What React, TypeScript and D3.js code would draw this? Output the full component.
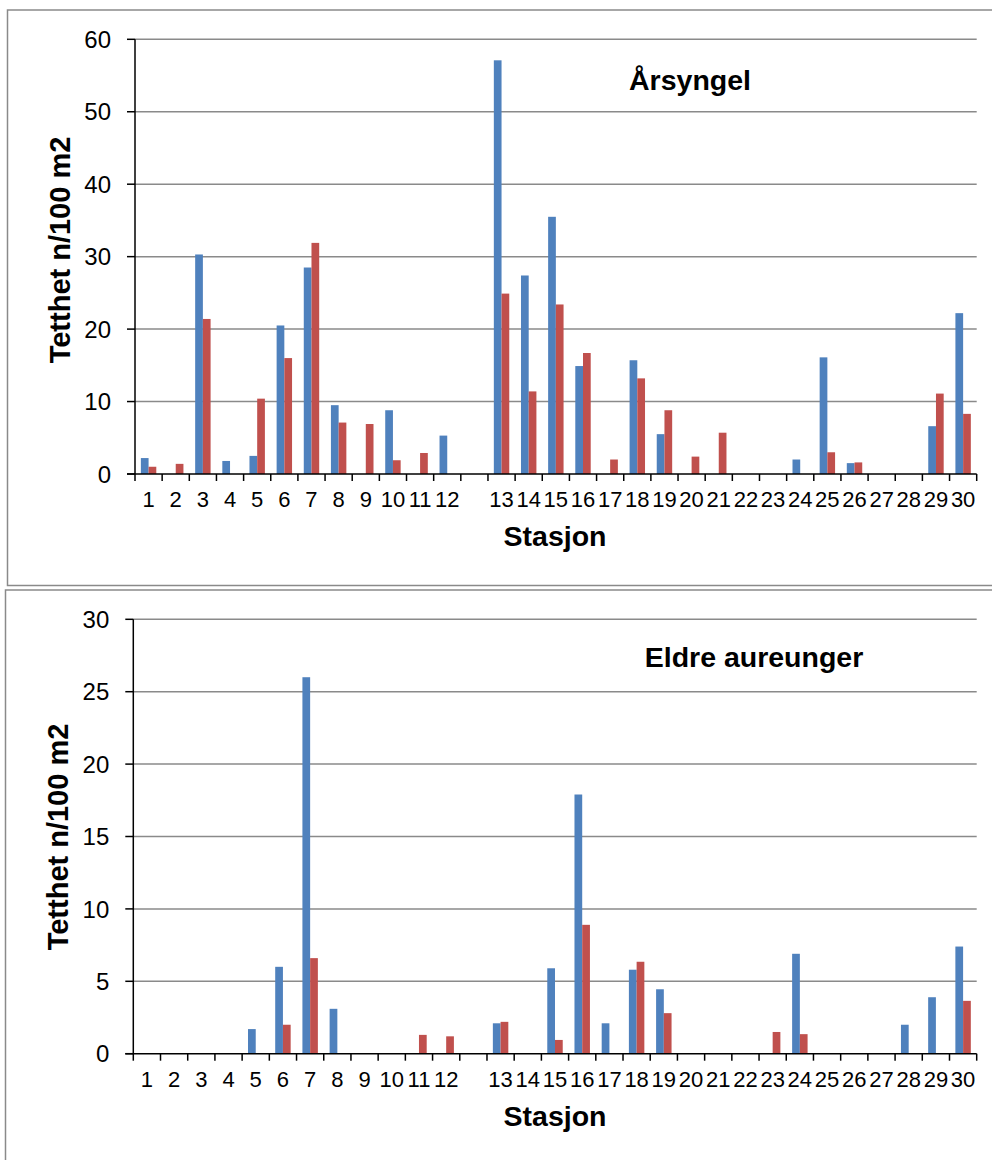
import React from "react";
import * as d3 from "d3";

// Stations ("" = empty gap category between 12 and 13)
const stations: string[] = [
  "1", "2", "3", "4", "5", "6", "7", "8", "9", "10", "11", "12", "",
  "13", "14", "15", "16", "17", "18", "19", "20", "21", "22", "23", "24", "25", "26", "27", "28", "29", "30",
];

// Årsyngel (young of the year)
const arsyngelBlue: (number | null)[] = [
  2.2, 0, 30.3, 1.8, 2.5, 20.5, 28.5, 9.5, 0, 8.8, 0, 5.3, null,
  57.1, 27.4, 35.5, 14.9, 0, 15.7, 5.5, 0, 0, 0, 0, 2.0, 16.1, 1.5, 0, 0, 6.6, 22.2,
];
const arsyngelRed: (number | null)[] = [
  1.0, 1.4, 21.4, 0, 10.4, 16.0, 31.9, 7.1, 6.9, 1.9, 2.9, 0, null,
  24.9, 11.4, 23.4, 16.7, 2.0, 13.2, 8.8, 2.4, 5.7, 0, 0, 0, 3.0, 1.6, 0, 0, 11.1, 8.3,
];

// Eldre aureunger (older trout parr)
const eldreBlue: (number | null)[] = [
  0, 0, 0, 0, 1.7, 6.0, 26.0, 3.1, 0, 0, 0, 0, null,
  2.1, 0, 5.9, 17.9, 2.1, 5.8, 4.45, 0, 0, 0, 0, 6.9, 0, 0, 0, 2.0, 3.9, 7.4,
];
const eldreRed: (number | null)[] = [
  0, 0, 0, 0, 0, 2.0, 6.6, 0, 0, 0, 1.3, 1.2, null,
  2.2, 0, 0.95, 8.9, 0, 6.35, 2.8, 0, 0, 0, 1.5, 1.35, 0, 0, 0, 0, 0, 3.65,
];

const arsyngelTicks = [0, 10, 20, 30, 40, 50, 60];
const eldreTicks = [0, 5, 10, 15, 20, 25, 30];

const BLUE = "#4F81BD";
const RED = "#C0504D";
const GRID = "#8a8a8a";
const FONT = "Arial, 'Liberation Sans', sans-serif";

type PanelProps = {
  title: string;
  titleX: number;
  titleY: number;
  blue: (number | null)[];
  red: (number | null)[];
  ticks: number[];
  xLeft: number;
  xRight: number;
  yTop: number;
  yZero: number;
  yTitleX: number;
  yTitleY: number;
};

function Panel(p: PanelProps) {
  const keys = stations.map((s, i) => (s === "" ? `gap${i}` : s));
  const x = d3.scaleBand<string>().domain(keys).range([p.xLeft, p.xRight]).paddingInner(0).paddingOuter(0);
  const inner = d3
    .scaleBand<string>()
    .domain(["blue", "red"])
    .range([0, x.bandwidth()])
    .paddingInner(0)
    .paddingOuter(0.76);
  const yMax = d3.max(p.ticks) as number;
  const y = d3.scaleLinear().domain([0, yMax]).range([p.yZero, p.yTop]);

  const bars: JSX.Element[] = [];
  keys.forEach((k, i) => {
    const series: [string, number | null, string][] = [
      ["blue", p.blue[i], BLUE],
      ["red", p.red[i], RED],
    ];
    series.forEach(([s, v, c]) => {
      if (v == null || v <= 0) return;
      const bx = (x(k) as number) + (inner(s) as number);
      bars.push(
        <rect key={`${k}-${s}`} x={bx} y={y(v)} width={inner.bandwidth()} height={p.yZero - y(v)} fill={c} />
      );
    });
  });

  const tickXs = [...keys.map((k) => x(k) as number), p.xRight];

  return (
    <g>
      {p.ticks.filter((t) => t > 0).map((t) => (
        <line key={`g${t}`} x1={p.xLeft} x2={p.xRight} y1={y(t)} y2={y(t)} stroke={GRID} strokeWidth={1.5} />
      ))}
      {bars}
      <line x1={p.xLeft} x2={p.xLeft} y1={p.yTop} y2={p.yZero} stroke="#000" strokeWidth={1.5} />
      {p.ticks.map((t) => (
        <g key={`yt${t}`}>
          <line x1={p.xLeft - 8} x2={p.xLeft} y1={y(t)} y2={y(t)} stroke="#000" strokeWidth={1.5} />
          <text x={p.xLeft - 24} y={y(t)} dy="0.36em" textAnchor="end" fontFamily={FONT} fontSize={24} fill="#000">
            {t}
          </text>
        </g>
      ))}
      <line x1={p.xLeft - 8} x2={p.xRight} y1={p.yZero} y2={p.yZero} stroke="#000" strokeWidth={1.5} />
      {tickXs.map((tx, i) => (
        <line key={`xt${i}`} x1={tx} x2={tx} y1={p.yZero} y2={p.yZero + 7} stroke="#000" strokeWidth={1.5} />
      ))}
      {keys.map((k, i) => (
        <text
          key={`xl${k}`}
          x={(x(k) as number) + x.bandwidth() / 2}
          y={p.yZero + 33}
          textAnchor="middle"
          fontFamily={FONT}
          fontSize={22}
          fill="#000"
        >
          {stations[i]}
        </text>
      ))}
      <text
        x={555}
        y={p.yZero + 72}
        textAnchor="middle"
        fontFamily={FONT}
        fontSize={28.5}
        fontWeight="bold"
        fill="#000"
      >
        Stasjon
      </text>
      <text
        transform={`translate(${p.yTitleX},${p.yTitleY}) rotate(-90)`}
        textAnchor="middle"
        fontFamily={FONT}
        fontSize={29}
        fontWeight="bold"
        fill="#000"
      >
        Tetthet n/100 m2
      </text>
      <text x={p.titleX} y={p.titleY} textAnchor="middle" fontFamily={FONT} fontSize={28.5} fontWeight="bold" fill="#000">
        {p.title}
      </text>
    </g>
  );
}

export default function App() {
  return (
    <svg
      width={992}
      height={1160}
      style={{ position: "absolute", left: 0, top: 0, background: "#fff" }}
      xmlns="http://www.w3.org/2000/svg"
    >
      <rect x={0} y={0} width={992} height={1160} fill="#fff" />
      <rect x={7.5} y={10} width={1000} height={575.5} fill="none" stroke={GRID} strokeWidth={1.5} />
      <rect x={5.5} y={590} width={1000} height={600} fill="none" stroke={GRID} strokeWidth={1.5} />
      <Panel
        title="Årsyngel"
        titleX={690}
        titleY={90}
        blue={arsyngelBlue}
        red={arsyngelRed}
        ticks={arsyngelTicks}
        xLeft={135}
        xRight={976.7}
        yTop={39.3}
        yZero={474}
        yTitleX={70}
        yTitleY={250}
      />
      <Panel
        title="Eldre aureunger"
        titleX={754}
        titleY={666.5}
        blue={eldreBlue}
        red={eldreRed}
        ticks={eldreTicks}
        xLeft={133.3}
        xRight={976.7}
        yTop={619.3}
        yZero={1053.7}
        yTitleX={68.3}
        yTitleY={837}
      />
    </svg>
  );
}
